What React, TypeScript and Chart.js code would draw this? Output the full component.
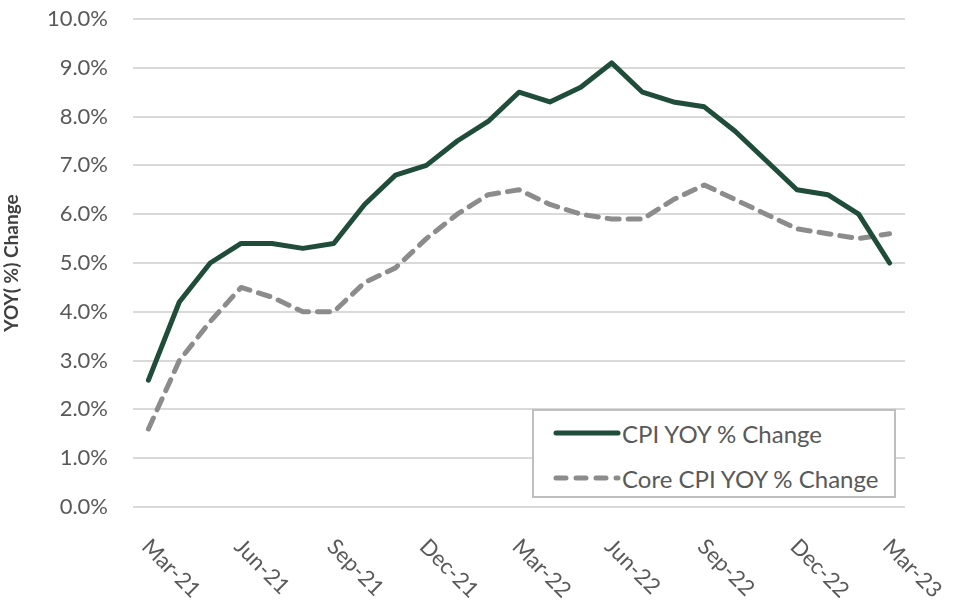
import React, { useEffect, useRef } from "react";
import { Chart, registerables } from "chart.js";

Chart.register(...registerables);

const months = [
  "Mar-21", "Apr-21", "May-21", "Jun-21", "Jul-21", "Aug-21", "Sep-21", "Oct-21", "Nov-21", "Dec-21",
  "Jan-22", "Feb-22", "Mar-22", "Apr-22", "May-22", "Jun-22", "Jul-22", "Aug-22", "Sep-22", "Oct-22",
  "Nov-22", "Dec-22", "Jan-23", "Feb-23", "Mar-23",
];
const cpi = [2.6, 4.2, 5.0, 5.4, 5.4, 5.3, 5.4, 6.2, 6.8, 7.0, 7.5, 7.9, 8.5, 8.3, 8.6, 9.1, 8.5, 8.3, 8.2, 7.7, 7.1, 6.5, 6.4, 6.0, 5.0];
const coreCpi = [1.6, 3.0, 3.8, 4.5, 4.3, 4.0, 4.0, 4.6, 4.9, 5.5, 6.0, 6.4, 6.5, 6.2, 6.0, 5.9, 5.9, 6.3, 6.6, 6.3, 6.0, 5.7, 5.6, 5.5, 5.6];
const shownLabels = ["Mar-21", "Jun-21", "Sep-21", "Dec-21", "Mar-22", "Jun-22", "Sep-22", "Dec-22", "Mar-23"];
const seriesNames = ["CPI YOY % Change", "Core CPI YOY % Change"];
const yTitle = "YOY( %) Change";

const GREEN = "#1f4d3a";
const GRAY = "#8c8c8c";
const FONT = "Lato, 'Open Sans', sans-serif";

const rotatedLabels = {
  id: "rotatedLabels",
  afterDraw(chart: any) {
    const ctx = chart.ctx;
    const xs = chart.scales.x;
    ctx.save();
    ctx.font = `22px ${FONT}`;
    ctx.fillStyle = "#595959";
    ctx.textAlign = "left";
    ctx.textBaseline = "middle";
    months.forEach((m, i) => {
      if (!shownLabels.includes(m)) return;
      const x = xs.getPixelForValue(i);
      ctx.save();
      ctx.translate(x - 3, chart.chartArea.bottom + 36);
      ctx.rotate(Math.PI / 4);
      ctx.fillText(m, 0, 0);
      ctx.restore();
    });
    ctx.restore();
  },
};

export default function App() {
  const ref = useRef<HTMLCanvasElement>(null);
  useEffect(() => {
    const chart = new Chart(ref.current!, {
      type: "line",
      data: {
        labels: months,
        datasets: [
          {
            label: seriesNames[0],
            data: cpi,
            borderColor: GREEN,
            borderWidth: 5,
            pointRadius: 0,
            tension: 0,
            borderJoinStyle: "round",
            borderCapStyle: "round",
          },
          {
            label: seriesNames[1],
            data: coreCpi,
            borderColor: GRAY,
            borderWidth: 5,
            borderDash: [12, 9],
            pointRadius: 0,
            tension: 0,
            borderJoinStyle: "round",
            borderCapStyle: "round",
          },
        ],
      },
      options: {
        animation: false,
        responsive: false,
        maintainAspectRatio: false,
        layout: { padding: { top: 19, right: 52, bottom: 95, left: 0 } },
        plugins: { legend: { display: false }, tooltip: { enabled: false } },
        scales: {
          x: {
            offset: true,
            grid: { display: false },
            border: { display: false },
            ticks: { display: false },
          },
          y: {
            min: 0,
            max: 10,
            ticks: {
              stepSize: 1,
              padding: 25,
              color: "#595959",
              font: { family: FONT, size: 22 },
              callback: (v: any) => Number(v).toFixed(1) + "%",
            },
            grid: { color: "#d9d9d9", lineWidth: 2, drawTicks: false },
            border: { display: false },
            title: {
              display: true,
              text: yTitle,
              color: "#404040",
              font: { family: FONT, size: 19, weight: "bold" },
              padding: 0,
            },
            afterFit: (s: any) => {
              s.width = 133;
              s.paddingTop = 0;
              s.paddingBottom = 0;
            },
          },
        },
      },
      plugins: [rotatedLabels],
    });
    return () => chart.destroy();
  }, []);

  return (
    <div style={{ position: "absolute", left: 0, top: 0, width: 957, height: 610, background: "#fff" }}>
      <canvas ref={ref} width={957} height={610} style={{ display: "block" }} />
      <div
        style={{
          position: "absolute",
          left: 532,
          top: 409,
          width: 360,
          height: 85,
          border: "2px solid #bfbfbf",
          background: "#fff",
          fontFamily: FONT,
          fontSize: 24,
          color: "#595959",
        }}
      >
        {seriesNames.map((name, i) => (
          <div
            key={name}
            style={{ position: "absolute", left: 19, top: i === 0 ? 7 : 52, height: 30, display: "flex", alignItems: "center", whiteSpace: "nowrap" }}
          >
            <svg width={68} height={10} style={{ marginRight: 1 }}>
              <line
                x1={3}
                y1={5}
                x2={65}
                y2={5}
                stroke={i === 0 ? GREEN : GRAY}
                strokeWidth={5}
                strokeLinecap="round"
                strokeDasharray={i === 0 ? undefined : "10 10"}
              />
            </svg>
            <span>{name}</span>
          </div>
        ))}
      </div>
    </div>
  );
}
